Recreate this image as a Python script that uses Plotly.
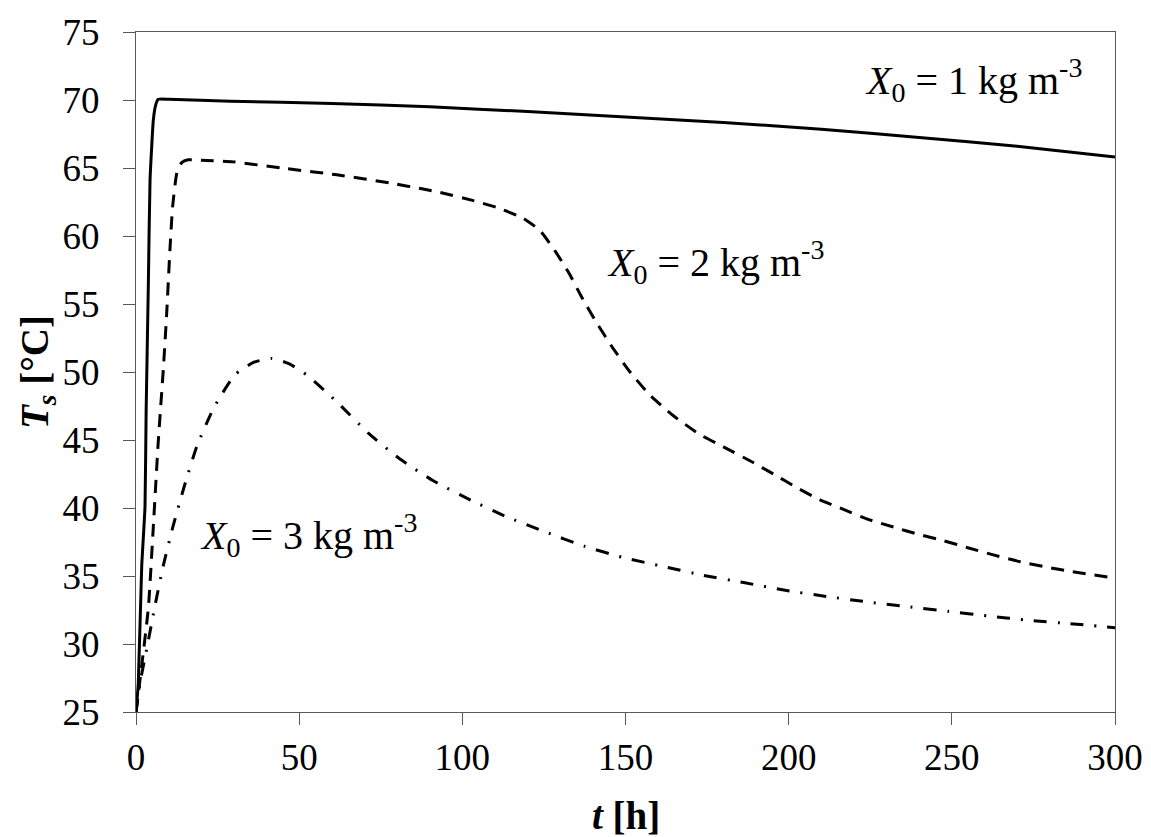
import plotly.graph_objects as go

# X0 = 1 kg m-3 (solid)
t1 = [0, 0.7, 1.75, 2.76, 3.1, 3.8, 4.3, 5.3, 6.0, 6.8, 10, 29, 60, 90, 120, 150, 180, 210, 240, 270, 300]
T1 = [25, 27.1, 35.7, 40.1, 47.0, 56.7, 64.1, 68.5, 69.6, 70.05, 70.05, 69.9, 69.75, 69.5, 69.15, 68.75, 68.35, 67.85, 67.25, 66.6, 65.8]

# X0 = 2 kg m-3 (dashed)
t2 = [0, 1.7, 3.8, 5.3, 6.8, 8.4, 9.4, 10.4, 11.2, 12.5, 14, 16, 21.7, 29.8, 46.2, 61.5, 77.8, 88,
      93.2, 103.4, 110.5, 118.7, 123.8, 128.4, 132.5, 136.6, 141.2, 146.3, 151.4, 157.5, 164.6,
      172.8, 180, 188.7, 195.3, 202.5, 209.6, 216.8, 223.9, 232.1, 239.2, 247.4, 254.6, 262.7,
      270.9, 279.1, 286.2, 300]
T2 = [25, 28.3, 32.7, 38.6, 44.8, 50.3, 54.3, 59.0, 62.1, 64.6, 65.4, 65.6, 65.55, 65.45, 64.95, 64.5, 63.9, 63.45,
      63.2, 62.6, 62.1, 61.3, 60.4, 58.9, 57.35, 55.5, 53.6, 51.7, 50.0, 48.3, 46.8,
      45.4, 44.5, 43.4, 42.5, 41.5, 40.6, 39.9, 39.2, 38.6, 38.1, 37.6, 37.1, 36.55,
      36.05, 35.65, 35.35, 34.85]

# X0 = 3 kg m-3 (dash-dot)
t3 = [0, 1.2, 3.5, 5.8, 8.4, 11.4, 14.8, 18.6, 23.7, 30.3, 36, 41.6, 47, 52.8, 62, 71.2, 80.9, 91.1,
      102.4, 113.6, 125.3, 137.3, 149.4, 161.6, 173.9, 186.6, 198.9, 211.5, 223.9, 236.2, 248.9,
      261.2, 273.8, 286.2, 300]
T3 = [25, 27.1, 29.9, 32.8, 35.8, 38.7, 41.6, 44.5, 47.3, 49.8, 50.7, 51.0, 50.6, 49.7, 47.7, 45.5, 43.6, 42.0,
      40.6, 39.35, 38.25, 37.2, 36.35, 35.7, 35.05, 34.5, 33.95, 33.5, 33.1, 32.75, 32.4,
      32.06, 31.74, 31.5, 31.2]

labels = ["<i>X</i><sub>0</sub> = 1 kg m<sup>-3</sup>",
          "<i>X</i><sub>0</sub> = 2 kg m<sup>-3</sup>",
          "<i>X</i><sub>0</sub> = 3 kg m<sup>-3</sup>"]
label_x = [222.8, 143.7, 19.0]
label_y = [71.5, 58.1, 38.05]

x_title = "<b><i>t</i> [h]</b>"
y_title = "<b><i>T<sub>s</sub></i> [°C]</b>"

FONT = "Liberation Serif, Times New Roman, serif"

fig = go.Figure()
fig.add_trace(go.Scatter(x=t1, y=T1, mode="lines", line=dict(color="black", width=3,
                                                               shape="spline", smoothing=0.4), showlegend=False))
fig.add_trace(go.Scatter(x=t2, y=T2, mode="lines", line=dict(color="black", width=3, dash="13px,9px",
                                                               shape="spline", smoothing=0.5), showlegend=False))
fig.add_trace(go.Scatter(x=t3, y=T3, mode="lines", line=dict(color="black", width=3, dash="13px,11px,2px,11px",
                                                               shape="spline", smoothing=0.5), showlegend=False))

for lx, ly, txt in zip(label_x, label_y, labels):
    fig.add_annotation(x=lx, y=ly, text=txt, showarrow=False, xanchor="left", yanchor="middle",
                       font=dict(family=FONT, size=40, color="black"))

# axis titles
fig.add_annotation(xref="paper", yref="paper", x=0.5, y=0, yshift=-103, text=x_title, showarrow=False,
                   xanchor="center", yanchor="middle", font=dict(family=FONT, size=39, color="black"))
fig.add_annotation(xref="paper", yref="paper", x=0, y=0.5, xshift=-99, text=y_title, showarrow=False,
                   textangle=-90, xanchor="center", yanchor="middle", font=dict(family=FONT, size=39, color="black"))

fig.update_layout(
    width=1143, height=829,
    margin=dict(l=128, r=36, t=24, b=125, autoexpand=False),
    plot_bgcolor="white", paper_bgcolor="white",
    font=dict(family=FONT, color="black"),
)
fig.update_xaxes(
    range=[0, 300], tickvals=[0, 50, 100, 150, 200, 250, 300],
    showline=True, linecolor="#595959", linewidth=1.2, mirror=True,
    ticks="outside", ticklen=12, tickcolor="#595959", tickwidth=1.2,
    showgrid=False, zeroline=False, automargin=False, ticklabelstandoff=0,
    tickfont=dict(family=FONT, size=37, color="black"),
)
fig.update_yaxes(
    range=[25, 75], tickvals=[25, 30, 35, 40, 45, 50, 55, 60, 65, 70, 75],
    showline=True, linecolor="#595959", linewidth=1.2, mirror=True,
    ticks="outside", ticklen=12, tickcolor="#595959", tickwidth=1.2,
    showgrid=False, zeroline=False, automargin=False, ticklabelstandoff=16,
    tickfont=dict(family=FONT, size=37, color="black"),
)

fig.write_html("out.html")
